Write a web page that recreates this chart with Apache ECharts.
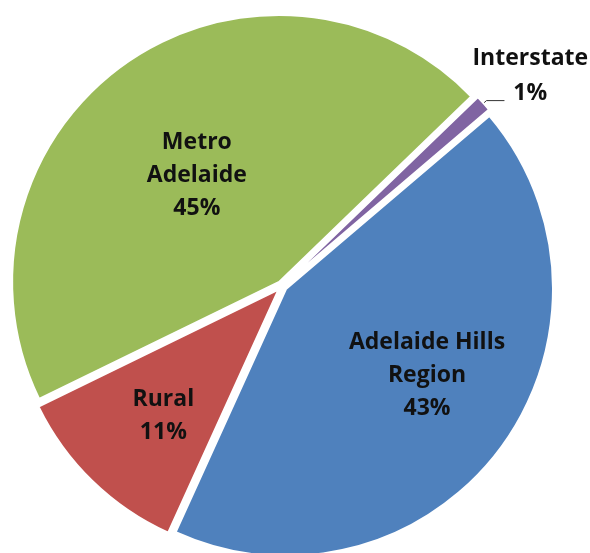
<!DOCTYPE html>
<html>
<head>
<meta charset="utf-8">
<script src="https://cdn.jsdelivr.net/npm/echarts@6/dist/echarts.min.js"></script>
<style>
  html, body { margin: 0; padding: 0; background: #fff; }
  #chart { width: 590px; height: 553px; }
</style>
</head>
<body>
<div id="chart"></div>
<script>
// slice order clockwise, starting just right of 12 o'clock
const categories = ['Interstate', 'Adelaide Hills Region', 'Rural', 'Metro Adelaide']
const labelNames = ['Interstate', 'Adelaide Hills\nRegion', 'Rural', 'Metro\nAdelaide']
const values = [1, 43, 11, 45]
const colors = ['#8064A2', '#4F81BD', '#C0504D', '#9BBB59']

const chart = echarts.init(document.getElementById('chart'))

// nudges for the labels (excel "best fit" puts them off-centre)
const labelNudge = [[-37, -25], [32, 4], [-20, 29], [-4, 5]]

chart.setOption({
  animation: false,
  series: [{
    type: 'pie',
    left: 0,
    top: 0,
    right: -120,
    bottom: 0,
    center: [282, 286],
    radius: 267,
    startAngle: 44,
    clockwise: true,
    selectedMode: 'multiple',
    selectedOffset: 5,
    itemStyle: {
      borderColor: '#fff',
      borderWidth: 2
    },
    emphasis: { disabled: true },
    label: {
      show: true,
      position: 'inside',
      color: '#111',
      fontFamily: 'Open Sans',
      fontWeight: 'bold',
      fontSize: 23,
      lineHeight: 33,
      formatter: function (p) {
        return labelNames[p.dataIndex] + '\n' + p.percent + '%'
      }
    },
    labelLayout: function (p) {
      const n = labelNudge[p.dataIndex]
      const res = { dx: n[0], dy: n[1] }
      if (p.labelLinePoints) {
        // keep the leader line where the pie put it
        res.labelLinePoints = p.labelLinePoints
      }
      return res
    },
    data: categories.map(function (c, i) {
      const item = {
        name: c,
        value: values[i],
        selected: true,
        itemStyle: { color: colors[i] }
      }
      if (i === 0) {
        item.label = {
          position: 'outside',
          overflow: 'none',
          bleedMargin: 0,
          lineHeight: 35,
          formatter: function (p) {
            return '{a|' + labelNames[0] + '}\n{a|' + p.percent + '%}'
          },
          rich: {
            a: {
              align: 'center',
              color: '#111',
              fontFamily: 'Open Sans',
              fontWeight: 'bold',
              fontSize: 23,
              lineHeight: 35
            }
          }
        }
        item.labelLine = {
          show: true,
          length: 4,
          length2: 18,
          lineStyle: { color: '#333', width: 1 }
        }
      }
      return item
    })
  }]
})
</script>
</body>
</html>
